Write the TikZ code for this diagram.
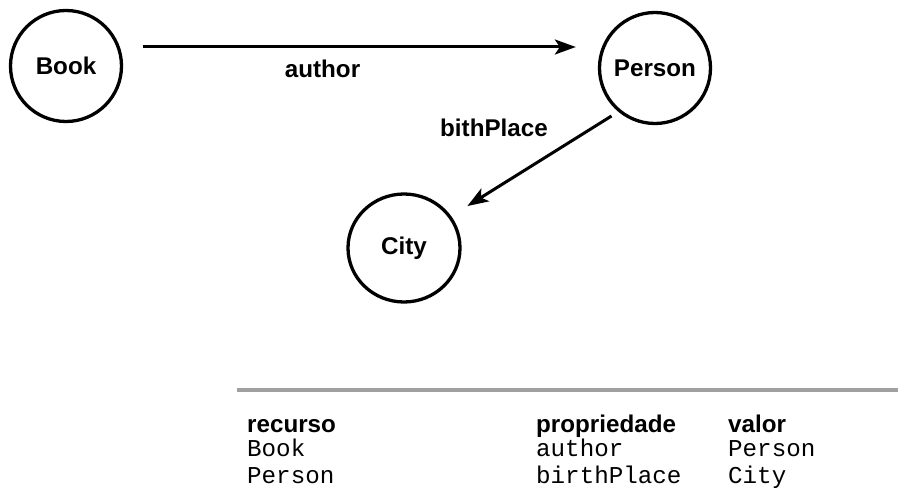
\documentclass[tikz,border=0pt]{standalone}
\usepackage{fontspec}
\setmainfont{Liberation Sans}
\setmonofont{Liberation Mono}
\usetikzlibrary{arrows.meta,shapes.geometric}

\begin{document}
\begin{tikzpicture}[x=1pt,y=-1pt,>={Stealth[length=21pt,width=15pt,inset=5pt]},font=\fontsize{24.2}{29}\selectfont]
\tikzstyle{res}=[circle,draw,line width=3.3pt,minimum size=111pt,inner sep=0pt,font=\fontsize{24.2}{29}\selectfont\bfseries]
\tikzstyle{edge}=[->,line width=3pt]
\tikzstyle{head}=[anchor=base west,font=\fontsize{24.2}{29}\selectfont\bfseries]
\tikzstyle{cell}=[anchor=base west,inner sep=0pt,font=\fontsize{24.2}{29}\selectfont\ttfamily]

\useasboundingbox (0,0) rectangle (900,500);

\node[res] (book) at (66,66) {Book};
\node[res] (person) at (655,68) {Person};
\node[res,ellipse,minimum width=112pt,minimum height=108pt] (city) at (404,248) {City};

\draw[edge,shorten <=20pt,shorten >=22pt] ([yshift=19pt]book.east) -- ([yshift=21pt]person.west)
  node[pos=0.42,yshift=-22pt,font=\fontsize{24.2}{29}\selectfont\bfseries] (authorlbl) {author};
\draw[edge,shorten <=8pt,shorten >=19pt] (person.230) -- (city.34);
\node[font=\fontsize{24.2}{29}\selectfont\bfseries] (birthlbl) at (494,128) {bithPlace};

% tabela de triplas
\draw[line width=4pt,color={rgb,255:red,160;green,160;blue,160}] (237,390) -- (898,390);

\node[head,inner sep=0pt] (h1) at (247,432) {recurso};
\node[head,inner sep=0pt] (h2) at (536,432) {propriedade};
\node[head,inner sep=0pt] (h3) at (728,432) {valor};
\node[cell] (r1) at (247,456.5) {Book};
\node[cell] (p1) at (536,456.5) {author};
\node[cell] (v1) at (728,456.5) {Person};
\node[cell] (r2) at (247,483) {Person};
\node[cell] (p2) at (536,483) {birthPlace};
\node[cell] (v2) at (728,483) {City};
\end{tikzpicture}
\end{document}
